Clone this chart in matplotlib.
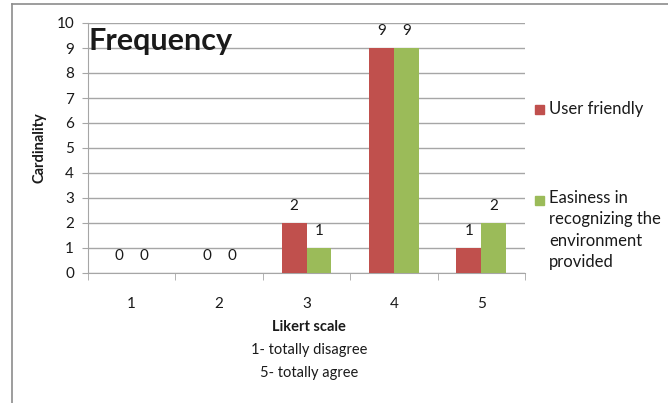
import numpy as np
import matplotlib.pyplot as plt
from matplotlib.patches import Rectangle
from matplotlib.lines import Line2D

# data
categories = ["1", "2", "3", "4", "5"]
user_friendly = [0, 0, 2, 9, 1]
easiness = [0, 0, 1, 9, 2]
series_names = ["User friendly", "Easiness in\nrecognizing the\nenvironment\nprovided"]

red = "#C0504D"
green = "#9BBB59"
grid_col = "#A6A6A6"
txt = "#1a1a1a"

plt.rcParams["font.family"] = ["Lato", "DejaVu Sans"]

fig = plt.figure(figsize=(6.68, 4.03), dpi=100)
ax = fig.add_axes([88 / 668, 1 - 273 / 403, 437 / 668, 250 / 403])

x = np.arange(len(categories))
w = 0.2857
b1 = ax.bar(x - w / 2, user_friendly, w, color=red, zorder=3)
b2 = ax.bar(x + w / 2, easiness, w, color=green, zorder=3)

# value labels
for bars, vals in ((b1, user_friendly), (b2, easiness)):
    for bar, v in zip(bars, vals):
        ax.annotate(str(v), (bar.get_x() + bar.get_width() / 2, v),
                    xytext=(0, 12.5), textcoords="offset points",
                    ha="center", va="center", fontsize=11, color=txt)

ax.set_xlim(-0.5, len(categories) - 0.5)
ax.set_ylim(0, 10)
ax.set_yticks(range(0, 11))
ax.yaxis.grid(True, color=grid_col, linewidth=1, zorder=0)
ax.set_xticks(x)
ax.set_xticklabels(categories)
ax.set_xticks(np.arange(-0.5, len(categories)), minor=True)
ax.tick_params(axis="x", which="major", length=0, pad=17, labelsize=11, labelcolor=txt)
ax.tick_params(axis="x", which="minor", length=5, color=grid_col)
ax.tick_params(axis="y", length=4, color=grid_col, labelsize=11, labelcolor=txt, pad=6)
for s in ("top", "right"):
    ax.spines[s].set_visible(False)
for s in ("left", "bottom"):
    ax.spines[s].set_color(grid_col)

ax.set_ylabel("Cardinality", fontsize=10.5, fontweight="bold", color=txt, labelpad=7)

# title inside plot area
fig.text(88 / 668, 1 - 41 / 403, "Frequency", fontsize=22, fontweight="bold",
         ha="left", va="center", color=txt)

# x axis title lines
fig.text(309 / 668, 1 - 327 / 403, "Likert scale", fontsize=10.5, fontweight="bold",
         ha="center", va="center", color=txt)
fig.text(309 / 668, 1 - 350 / 403, "1- totally disagree", fontsize=10.5,
         ha="center", va="center", color=txt)
fig.text(309 / 668, 1 - 373 / 403, "5- totally agree", fontsize=10.5,
         ha="center", va="center", color=txt)

# legend
fig.patches.append(Rectangle((535 / 668, 1 - 114 / 403), 9 / 668, 9 / 403,
                             transform=fig.transFigure, color=red))
fig.text(549 / 668, 1 - 109 / 403, series_names[0], fontsize=12,
         ha="left", va="center", color=txt)
fig.patches.append(Rectangle((535 / 668, 1 - 205 / 403), 9 / 668, 9 / 403,
                             transform=fig.transFigure, color=green))
fig.text(549 / 668, 1 - 190 / 403, series_names[1], fontsize=12,
         ha="left", va="top", color=txt, linespacing=1.42)

# outer chart border (top and left)
fig.lines.append(Line2D([12 / 668, 1], [1 - 4 / 403, 1 - 4 / 403],
                        transform=fig.transFigure, color="#8c8c8c", linewidth=1.2))
fig.lines.append(Line2D([12 / 668, 12 / 668], [0, 1 - 4 / 403],
                        transform=fig.transFigure, color="#8c8c8c", linewidth=1.2))

fig.savefig("out.png", dpi=100)
